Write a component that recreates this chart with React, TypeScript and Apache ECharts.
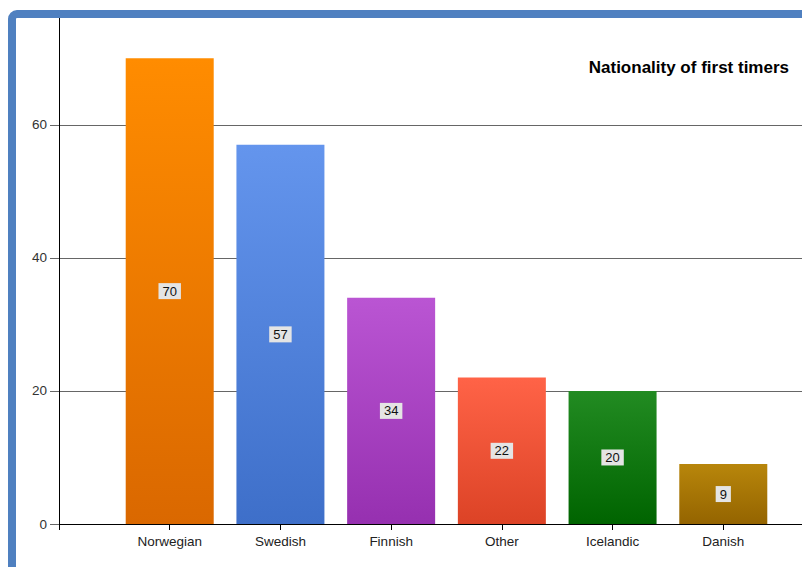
import React, { useEffect, useRef } from "react";
import * as echarts from "echarts";

const categories = ["Norwegian", "Swedish", "Finnish", "Other", "Icelandic", "Danish"];
const firstTimers = [70, 57, 34, 22, 20, 9];
const topColors = ["#FF8C00", "#6495ED", "#BA55D3", "#FF6347", "#228B22", "#B8860B"];
const bottomColors = ["#DA6800", "#3E6FC9", "#9630B0", "#DC4326", "#006400", "#946400"];
const yTicks = [0, 20, 40, 60];

export default function App() {
  const ref = useRef<HTMLDivElement>(null);

  useEffect(() => {
    if (!ref.current) return;
    const chart = echarts.init(ref.current, null, { renderer: "svg" });

    const data = firstTimers.map((v, i) => ({
      value: [i + 1, v],
      itemStyle: {
        color: new echarts.graphic.LinearGradient(0, 0, 0, 1, [
          { offset: 0, color: topColors[i] },
          { offset: 1, color: bottomColors[i] },
        ]),
      },
    }));

    chart.setOption({
      animation: false,
      backgroundColor: "#ffffff",
      textStyle: { fontFamily: "Liberation Sans, Arial, sans-serif" },
      grid: {
        left: 59,
        top: 15,
        width: 775,
        bottom: 43,
        containLabel: false,
        outerBoundsMode: "none",
      },
      xAxis: {
        type: "value",
        min: 0,
        max: categories.length + 1,
        interval: 1,
        axisLine: { show: true, lineStyle: { color: "#000", width: 1 } },
        axisTick: { show: true, length: 6, lineStyle: { color: "#000" } },
        splitLine: { show: false },
        axisLabel: {
          color: "#222",
          fontSize: 13.5,
          margin: 10,
          formatter: (v: number) => categories[v - 1] ?? "",
        },
      },
      yAxis: {
        type: "value",
        min: 0,
        max: 76.5,
        interval: 20,
        axisLine: { show: true, lineStyle: { color: "#000", width: 1 } },
        axisTick: { show: true, length: 9, lineStyle: { color: "#666" } },
        splitLine: { show: true, lineStyle: { color: "#666", width: 1 } },
        axisLabel: {
          color: "#333",
          fontSize: 13.5,
          margin: 12,
          showMaxLabel: false,
          formatter: (v: number) => (yTicks.includes(v) ? String(v) : ""),
        },
      },
      title: {
        text: "Nationality of first timers",
        right: 8,
        top: 54,
        textStyle: { color: "#000", fontSize: 17, fontWeight: "bold", fontFamily: "Liberation Sans, Arial, sans-serif" },
      },
      series: [
        {
          type: "bar",
          data,
          barWidth: 88,
          z: 3,
          label: {
            show: true,
            position: "inside",
            color: "#111",
            fontSize: 13,
            backgroundColor: "#E4E4E4",
            padding: [2, 4, 1, 4],
            formatter: (p: any) => String(p.value[1]),
          },
        },
      ],
      graphic: [
        {
          type: "rect",
          z: 100,
          silent: true,
          shape: { x: 12, y: 14, width: 1000, height: 1000, r: 5 },
          style: { fill: "none", stroke: "#4F80C0", lineWidth: 8 },
        },
      ],
    });

    return () => chart.dispose();
  }, []);

  return (
    <div
      ref={ref}
      style={{ position: "fixed", left: 0, top: 0, width: 802, height: 567, background: "#fff" }}
    />
  );
}
